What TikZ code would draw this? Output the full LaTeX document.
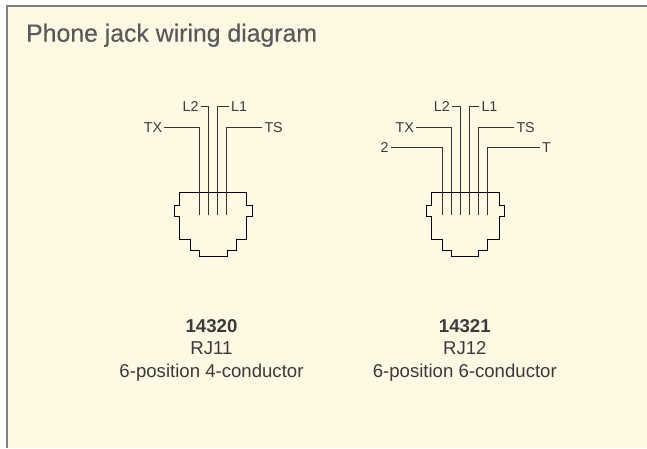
\documentclass[tikz,border=0pt]{standalone}
\usepackage{fontspec}
\setmainfont{Liberation Sans}
\newfontfamily\titlefont[FakeBold=0.25]{Liberation Sans}
\definecolor{panelbg}{HTML}{FFF8E3}
\definecolor{panelline}{HTML}{808080}
\definecolor{titlegray}{HTML}{58595B}
\definecolor{inkgray}{HTML}{3A3A3A}
\tikzset{
  pinlabel/.style={font=\fontsize{14.3}{16}\selectfont,text=inkgray,inner ysep=0pt,inner xsep=2pt,text height=10.3pt,text depth=0pt},
  wire/.style={line width=0.8pt,draw=black!80},
  capline/.style={font=\fontsize{18.6}{22.5}\selectfont,text=inkgray,inner sep=0pt,align=center},
  jackline/.style={line width=0.9pt,draw=black}
}
\begin{document}
\begin{tikzpicture}[x=1pt,y=-1pt]
\useasboundingbox (0,0) rectangle (647,448);

% panel
\fill[panelbg] (7,6) rectangle (647,448);
\draw[panelline,line width=1.5pt] (7,448) -- (7,6) -- (647,6);
\node[anchor=base west,inner sep=0pt,text=titlegray,font=\titlefont\fontsize{24.8}{28}\selectfont] (title) at (26,41.7) {Phone jack wiring diagram};

% left jack
\draw[jackline] (179.3,192) -- (246.7,192) -- (246.7,205.3) -- (252,205.3) -- (252,216.3) -- (246.7,216.3)
  -- (246.7,239.3) -- (236,239.3) -- (236,250) -- (227,250) -- (227,256.3) -- (199.7,256.3) -- (199.7,250)
  -- (190.7,250) -- (190.7,239.3) -- (179.3,239.3) -- (179.3,216.3) -- (174.3,216.3) -- (174.3,205.3)
  -- (179.3,205.3) -- cycle;

\coordinate (a1) at (199.7,215);
\coordinate (a2) at (208.7,215);
\coordinate (a3) at (217.7,215);
\coordinate (a4) at (226.7,215);

\node[pinlabel,anchor=east] (atx) at (164.3,127.3) {TX};
\node[pinlabel,anchor=east] (al2) at (200.7,106) {L2};
\node[pinlabel,anchor=west] (al1) at (229,106) {L1};
\node[pinlabel,anchor=west] (ats) at (262.3,127.3) {TS};

\draw[wire] (atx) -| (a1);
\draw[wire] (al2) -| (a2);
\draw[wire] (al1) -| (a3);
\draw[wire] (ats) -| (a4);

\node[capline] (acap) at (211.5,350) {\textbf{14320}\\RJ11\\6-position 4-conductor};

% right jack
\draw[jackline] (431.3,192) -- (499,192) -- (499,205.3) -- (504.3,205.3) -- (504.3,216.3) -- (499,216.3)
  -- (499,239.3) -- (487.7,239.3) -- (487.7,250) -- (478.7,250) -- (478.7,256.3) -- (451.7,256.3) -- (451.7,250)
  -- (442.7,250) -- (442.7,239.3) -- (431.3,239.3) -- (431.3,216.3) -- (426.3,216.3) -- (426.3,205.3)
  -- (431.3,205.3) -- cycle;

\coordinate (b1) at (442.7,215);
\coordinate (b2) at (451.7,215);
\coordinate (b3) at (460.7,215);
\coordinate (b4) at (469.7,215);
\coordinate (b5) at (478.7,215);
\coordinate (b6) at (487.7,215);

\node[pinlabel,anchor=east] (btwo) at (390.7,147.3) {2};
\node[pinlabel,anchor=east] (btx) at (416,127.3) {TX};
\node[pinlabel,anchor=east] (bl2) at (452,106) {L2};
\node[pinlabel,anchor=west] (bl1) at (479.3,106) {L1};
\node[pinlabel,anchor=west] (bts) at (514.3,127.3) {TS};
\node[pinlabel,anchor=west] (bt) at (540,147.3) {T};

\draw[wire] (btwo) -| (b1);
\draw[wire] (btx) -| (b2);
\draw[wire] (bl2) -| (b3);
\draw[wire] (bl1) -| (b4);
\draw[wire] (bts) -| (b5);
\draw[wire] (bt) -| (b6);

\node[capline] (bcap) at (464.8,350) {\textbf{14321}\\RJ12\\6-position 6-conductor};

\end{tikzpicture}
\end{document}
